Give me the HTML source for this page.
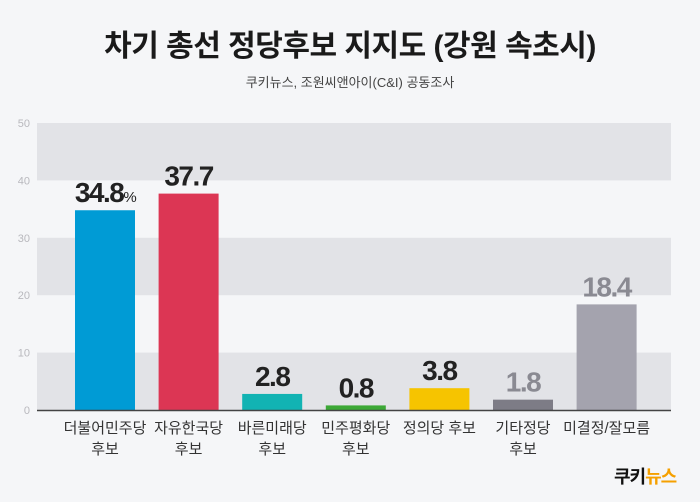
<!DOCTYPE html>
<html><head><meta charset="utf-8"><style>
body{margin:0;background:#f5f6f8;}
#wrap{position:relative;width:700px;height:502px;background:#f5f6f8;font-family:"Liberation Sans","Noto Sans CJK KR",sans-serif;overflow:hidden}
.t{position:absolute;left:0;width:700px;text-align:center}
</style></head><body>
<div id="wrap">
<div class="t" style="top:21px;font-size:30px;font-weight:bold;color:#1a1a1a;letter-spacing:-0.5px">차기 총선 정당후보 지지도 (강원 속초시)</div>
<div class="t" style="top:72px;font-size:13px;color:#444">쿠키뉴스, 조원씨앤아이(C&amp;I) 공동조사</div>
<svg id="chart" width="700" height="502" style="position:absolute;left:0;top:0"></svg>
<div style="position:absolute;left:614px;top:463px;font-size:18px;font-weight:bold;color:#111;letter-spacing:-1px">쿠키<span style="color:#f5a000">뉴스</span></div>
</div>
<script>
const categories=[["더불어민주당","후보"],["자유한국당","후보"],["바른미래당","후보"],["민주평화당","후보"],["정의당 후보"],["기타정당","후보"],["미결정/잘모름"]];
const values=[34.8,37.7,2.8,0.8,3.8,1.8,18.4];
const labels=["34.8","37.7","2.8","0.8","3.8","1.8","18.4"];
const colors=["#009bd5","#dc3654","#12b3b3","#3ca836","#f6c400","#7d7c86","#a4a3ae"];
const labelColors=["#222","#222","#222","#222","#222","#8a8a92","#8a8a92"];
const ticks=[0,10,20,30,40,50];
const svg=document.getElementById('chart');
const NS="http://www.w3.org/2000/svg";
const y0=410,pxPer=5.74,x0=37,x1=671;
const y=v=>y0-v*pxPer;
const xc=i=>105+i*83.6;
function mk(t,a){const e=document.createElementNS(NS,t);for(const k in a)e.setAttribute(k,a[k]);svg.appendChild(e);return e;}
for(let i=0;i<5;i+=2){
 const b=mk('rect',{x:x0,y:y(ticks[i+1]),width:x1-x0,height:y(ticks[i])-y(ticks[i+1]),fill:'#e2e3e7'});
 
 
}
ticks.forEach(t=>{const e=mk('text',{x:30,y:y(t)+4,'text-anchor':'end','font-size':11,fill:'#b8b8bd'});e.textContent=t;
 
 });
values.forEach((v,i)=>{
 const r=mk('rect',{x:xc(i)-30,y:y(v),width:60,height:y0-y(v),fill:colors[i]});
 
 
 const t=mk('text',{x:xc(i),y:y(v)-8,'text-anchor':'middle','font-size':28,'font-weight':'bold',fill:labelColors[i],'letter-spacing':'-1.5'});
 t.textContent=labels[i];
 if(i===0){const s=document.createElementNS(NS,'tspan');s.setAttribute('font-size','15');s.setAttribute('font-weight','normal');s.textContent='%';t.appendChild(s);}
 
 
 categories[i].forEach((line,j)=>{const c=mk('text',{x:xc(i),y:433+j*21,'text-anchor':'middle','font-size':15,fill:'#333'});c.textContent=line;
  
  });
});
const ax=mk('line',{x1:x0,x2:x1,y1:y0+0.5,y2:y0+0.5,stroke:'#444','stroke-width':1.5});


</script>
</body></html>
